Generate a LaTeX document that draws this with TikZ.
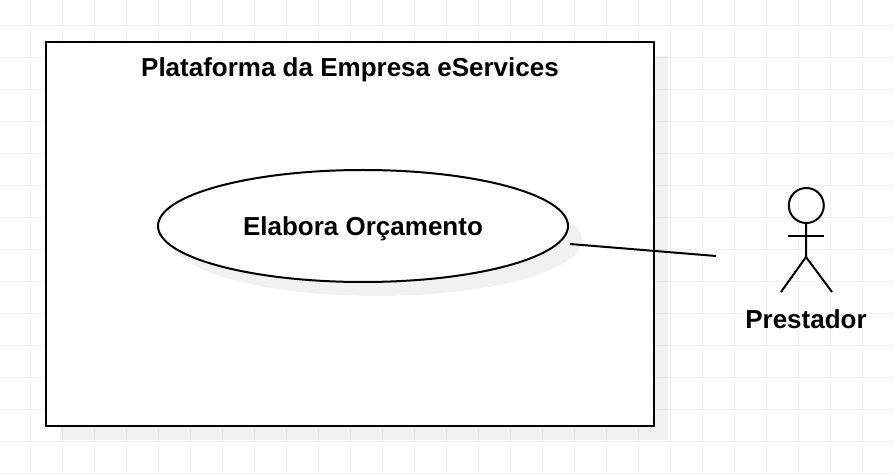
\documentclass[tikz,border=0pt]{standalone}
\usepackage{fontspec}
\setmainfont{Liberation Sans}
\definecolor{gridc}{HTML}{F0F0F0}
\definecolor{shadowc}{HTML}{000000}
\tikzset{
  px/.style={x=0.75pt,y=-0.75pt},
  gridline/.style={draw=gridc,line width=0.75pt},
  shapeline/.style={draw=black,line width=1.5pt},
  boxshadow/.style={fill=shadowc,fill opacity=0.055,draw=none},
  labeltext/.style={font=\bfseries\fontsize{19.5pt}{23pt}\selectfont,text=black,inner sep=0pt},
  stick/.style={draw=black,line width=1.5pt}
}
\begin{document}
\begin{tikzpicture}[px]
\useasboundingbox (0,0) rectangle (894,474);
\fill[white] (0,0) rectangle (894,474);
\foreach \gx in {30.5,62.5,...,894}{\draw[gridline] (\gx,0) -- (\gx,474);}
\foreach \gy in {26,58,...,474}{\draw[gridline] (0,\gy) -- (894,\gy);}
% frame
\fill[boxshadow] (60,56) rectangle (668,440);
\node[shapeline,fill=white,rectangle,minimum width=456pt,minimum height=288pt,inner sep=0pt,outer sep=0pt] (frame) at (350,234) {};
\node[labeltext] (title) at (350,70) {Plataforma da Empresa eServices};
% use case
\fill[boxshadow] (377,240) ellipse [x radius=205,y radius=56];
\draw[shapeline,fill=white] (363,226) ellipse [x radius=205,y radius=56];
\node[labeltext] (usecase) at (363,229) {Elabora Orçamento};
% actor
\node[stick,circle,minimum size=26.25pt,inner sep=0pt] (head) at (806.3,205.5) {};
\coordinate (hip) at (806,257);
\coordinate (armL) at (788,236);
\coordinate (armR) at (824,236);
\coordinate (footL) at (781,292);
\coordinate (footR) at (832,292);
\draw[stick] (head) -- (hip);
\draw[stick] (armL) -- (armR);
\draw[stick] (footL) -- (hip) -- (footR);
\node[labeltext] (actorlabel) at (806,319) {Prestador};
% association
\coordinate (assocA) at (570,244);
\coordinate (assocB) at (716,256);
\draw[stick] (assocA) -- (assocB);
\end{tikzpicture}
\end{document}
